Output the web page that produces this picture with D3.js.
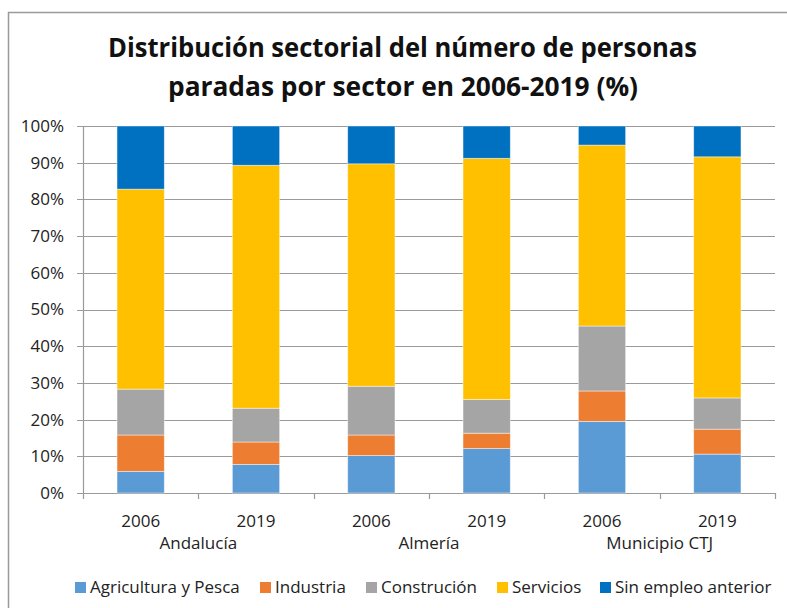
<!DOCTYPE html>
<html>
<head>
<meta charset="utf-8">
<script src="https://cdn.jsdelivr.net/npm/d3@7"></script>
<style>
  body { margin: 0; background: #fff; }
  svg text { font-family: "Open Sans", "DejaVu Sans", sans-serif; fill: #222; }
</style>
</head>
<body>
<div id="chart"></div>
<script>
// categories (region / year)
const regions = ["Andalucía", "Almería", "Municipio CTJ"];
const years = ["2006", "2019"];
const sectors = ["Agricultura y Pesca", "Industria", "Construción", "Servicios", "Sin empleo anterior"];
const colors = ["#5B9BD5", "#ED7D31", "#A5A5A5", "#FFC000", "#0070C0"];

// values per bar (order: Andalucía 2006, 2019, Almería 2006, 2019, CTJ 2006, 2019)
const agricultura = [5.9, 7.8, 10.2, 12.1, 19.5, 10.6];
const industria   = [9.9, 6.1, 5.6, 4.2, 8.3, 6.8];
const construcion = [12.5, 9.2, 13.3, 9.2, 17.7, 8.5];
const servicios   = [54.5, 66.2, 60.6, 65.7, 49.3, 65.7];
const sinEmpleo   = [17.2, 10.7, 10.3, 8.8, 5.2, 8.4];

const yTicks = d3.range(0, 101, 10);

const W = 787, H = 608;
const margin = {top: 126, right: 12, bottom: 115, left: 83};
const width = W - margin.left - margin.right;   // plot 83..775
const height = H - margin.top - margin.bottom;  // plot 126..493

// build the table the stack layout needs
const bars = [];
regions.forEach((r, i) => years.forEach((y, j) => bars.push({key: r + "|" + y, region: r, year: y})));
const seriesArr = [agricultura, industria, construcion, servicios, sinEmpleo];
bars.forEach((b, i) => sectors.forEach((s, k) => { b[s] = seriesArr[k][i]; }));

const svg = d3.select("#chart").append("svg")
  .attr("width", W)
  .attr("height", H);

// chart border
svg.append("rect")
  .attr("x", 8.5).attr("y", 12.5)
  .attr("width", W + 10).attr("height", H + 10)
  .attr("fill", "none").attr("stroke", "#9a9a9a").attr("stroke-width", 1.5);

// title
const title = svg.append("g").attr("class", "title");
title.append("text")
  .attr("x", 402.5).attr("y", 57)
  .attr("text-anchor", "middle")
  .attr("font-size", 26).attr("font-weight", "bold")
  .attr("textLength", 589).attr("lengthAdjust", "spacingAndGlyphs")
  .style("fill", "#111")
  .text("Distribución sectorial del número de personas");
title.append("text")
  .attr("x", 403).attr("y", 96)
  .attr("text-anchor", "middle")
  .attr("font-size", 26).attr("font-weight", "bold")
  .attr("textLength", 470).attr("lengthAdjust", "spacingAndGlyphs")
  .style("fill", "#111")
  .text("paradas por sector en 2006-2019 (%)");

const g = svg.append("g").attr("transform", `translate(${margin.left},${margin.top})`);

const x = d3.scaleBand()
  .domain(bars.map(d => d.key))
  .range([0, width])
  .paddingInner(0.59)
  .paddingOuter(0.295);

const y = d3.scaleLinear().domain([0, 100]).range([height, 0]);

// gridlines
g.append("g")
  .selectAll("line")
  .data(yTicks)
  .enter().append("line")
  .attr("x1", -6).attr("x2", width)
  .attr("y1", d => Math.round(y(d)) + 0.5).attr("y2", d => Math.round(y(d)) + 0.5)
  .attr("stroke", "#9a9a9a").attr("stroke-width", 1.2);

// y axis
const yAxis = g.append("g")
  .call(d3.axisLeft(y).tickValues(yTicks).tickFormat(d => d + "%").tickSize(0).tickPadding(19));
yAxis.select(".domain").attr("stroke", "#9a9a9a").attr("stroke-width", 1.2);
yAxis.selectAll("text").attr("font-size", 17).style("font-family", "Open Sans").style("fill", "#222");

// stacked bars
const stack = d3.stack().keys(sectors)(bars);
g.append("g")
  .selectAll("g")
  .data(stack)
  .enter().append("g")
  .attr("fill", (d, i) => colors[i])
  .selectAll("rect")
  .data(d => d)
  .enter().append("rect")
  .attr("x", d => x(d.data.key))
  .attr("width", x.bandwidth())
  .attr("y", d => y(d[1]))
  .attr("height", d => y(d[0]) - y(d[1]))
  .attr("stroke", "#ffffff").attr("stroke-opacity", 0.55).attr("stroke-width", 0.8);

// category boundary ticks on the x axis
const step = width / bars.length;
g.append("g")
  .selectAll("line")
  .data(d3.range(0, bars.length + 1))
  .enter().append("line")
  .attr("x1", d => Math.round(d * step) + 0.5).attr("x2", d => Math.round(d * step) + 0.5)
  .attr("y1", height).attr("y2", height + 6)
  .attr("stroke", "#9a9a9a").attr("stroke-width", 1.2);

// year labels
g.append("g")
  .selectAll("text")
  .data(bars)
  .enter().append("text")
  .attr("x", d => x(d.key) + x.bandwidth() / 2)
  .attr("y", height + 34)
  .attr("text-anchor", "middle")
  .attr("font-size", 17)
  .text(d => d.year);

// region labels
g.append("g")
  .selectAll("text")
  .data(regions)
  .enter().append("text")
  .attr("x", (d, i) => (i * 2 + 1) * step)
  .attr("y", height + 56)
  .attr("text-anchor", "middle")
  .attr("font-size", 17)
  .text(d => d);

// legend
const legendX = [75, 260, 366, 497, 600];
const legend = svg.append("g").attr("class", "legend");
sectors.forEach((s, i) => {
  legend.append("rect")
    .attr("x", legendX[i]).attr("y", 582)
    .attr("width", 11).attr("height", 11)
    .attr("fill", colors[i]);
  legend.append("text")
    .attr("x", legendX[i] + 15).attr("y", 593)
    .attr("font-size", 17)
    .text(s);
});
</script>
</body>
</html>
